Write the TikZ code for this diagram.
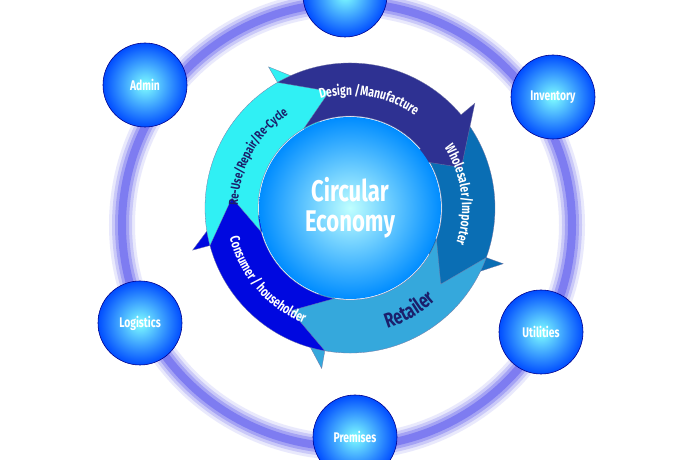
\documentclass[tikz,border=0pt]{standalone}
\usepackage{fontspec}
\setmainfont{Fira Sans}
\newfontfamily\condensed[FakeStretch=0.74]{Fira Sans}
\usetikzlibrary{decorations.text}
\definecolor{design}{HTML}{2E3192}
\definecolor{whole}{HTML}{0A6EB4}
\definecolor{retail}{HTML}{35A8DC}
\definecolor{consum}{HTML}{0008E0}
\definecolor{reuse}{HTML}{30F0F4}
\definecolor{navy}{HTML}{1B1F6B}
\definecolor{glow}{HTML}{6E6CF0}
\def\rin{92bp}
\def\rout{145bp}
\def\rmid{118.5bp}
% one clockwise ring arrow: tail angle, head base angle, colour
\newcommand\ringarrow[3]{%
  \fill[#3,draw=navy!60,line width=0.3pt] (#1:\rin) arc[start angle=#1,end angle=#2,radius=\rin]
    -- (#2:\rin-16bp) -- (#2-20:\rmid) -- (#2:\rout+18bp) -- (#2:\rout)
    arc[start angle=#2,end angle=#1,radius=\rout] -- (#1-20:\rmid) -- cycle;}
\tikzset{bubble/.style={circle,minimum size=84bp,inner sep=0pt,draw=blue!55!black,
    line width=0.6pt,inner color=cyan!50!white,outer color=blue!70!cyan,
    text=white,font=\condensed\bfseries\fontsize{14}{14}\selectfont},
  ringtext/.style={decorate,decoration={text along path,text align=center,text={#1}}}}
\begin{document}
\begin{tikzpicture}[x=1bp,y=1bp]
  \useasboundingbox (0,0) rectangle (700,460);
  \fill[white] (0,0) rectangle (700,460);
  % glowing ring
  \foreach \w/\o in {26/0.15,20/0.25,14/0.4,8/0.7}
    \draw[glow,line width=\w bp,opacity=\o] (347,235) ellipse[x radius=225bp,y radius=222bp];
  % outer spheres
  \node[bubble] (top) at (345,465) {};
  \node[bubble] (admin) at (145,375) {Admin};
  \node[bubble] (inventory) at (553,363) {Inventory};
  \node[bubble] (logistics) at (140,137) {Logistics};
  \node[bubble] (utilities) at (541,128) {Utilities};
  \node[bubble] (premises) at (355,23) {Premises};
  % centre
  \begin{scope}[shift={(350,252)}]
    \ringarrow{40}{-20}{whole}
    \ringarrow{-20}{-100}{retail}
    \ringarrow{-100}{-165}{consum}
    \ringarrow{195}{120}{reuse}
    \ringarrow{120}{40}{design}
    \node[circle,minimum size=182bp,inner sep=0pt,inner color=cyan!25!white,
      outer color=blue!45!cyan,align=center,text=white,
      font=\condensed\bfseries\fontsize{30}{30}\selectfont] (core) at (0,0) {Circular\\Economy};
    \path[ringtext={|\condensed\bfseries\fontsize{14}{14}\selectfont\color{white}|Design /Manufacture}]
      (125:113bp) arc[start angle=125,end angle=35,radius=113bp];
    \path[ringtext={|\condensed\bfseries\fontsize{14}{14}\selectfont\color{white}|Wholesaler/Importer}]
      (42:112bp) arc[start angle=42,end angle=-28,radius=112bp];
    \path[ringtext={|\condensed\bfseries\fontsize{21}{21}\selectfont\color{navy}|Retailer}]
      (-95:126bp) arc[start angle=-95,end angle=-25,radius=126bp];
    \path[ringtext={|\condensed\bfseries\fontsize{14}{14}\selectfont\color{white}|Consumer / householder}]
      (-182:124bp) arc[start angle=-182,end angle=-96,radius=124bp];
    \path[ringtext={|\condensed\bfseries\fontsize{13}{13}\selectfont\color{navy}|Re-Use/Repair/Re-Cycle}]
      (200:112bp) arc[start angle=200,end angle=102,radius=112bp];
  \end{scope}
\end{tikzpicture}
\end{document}
